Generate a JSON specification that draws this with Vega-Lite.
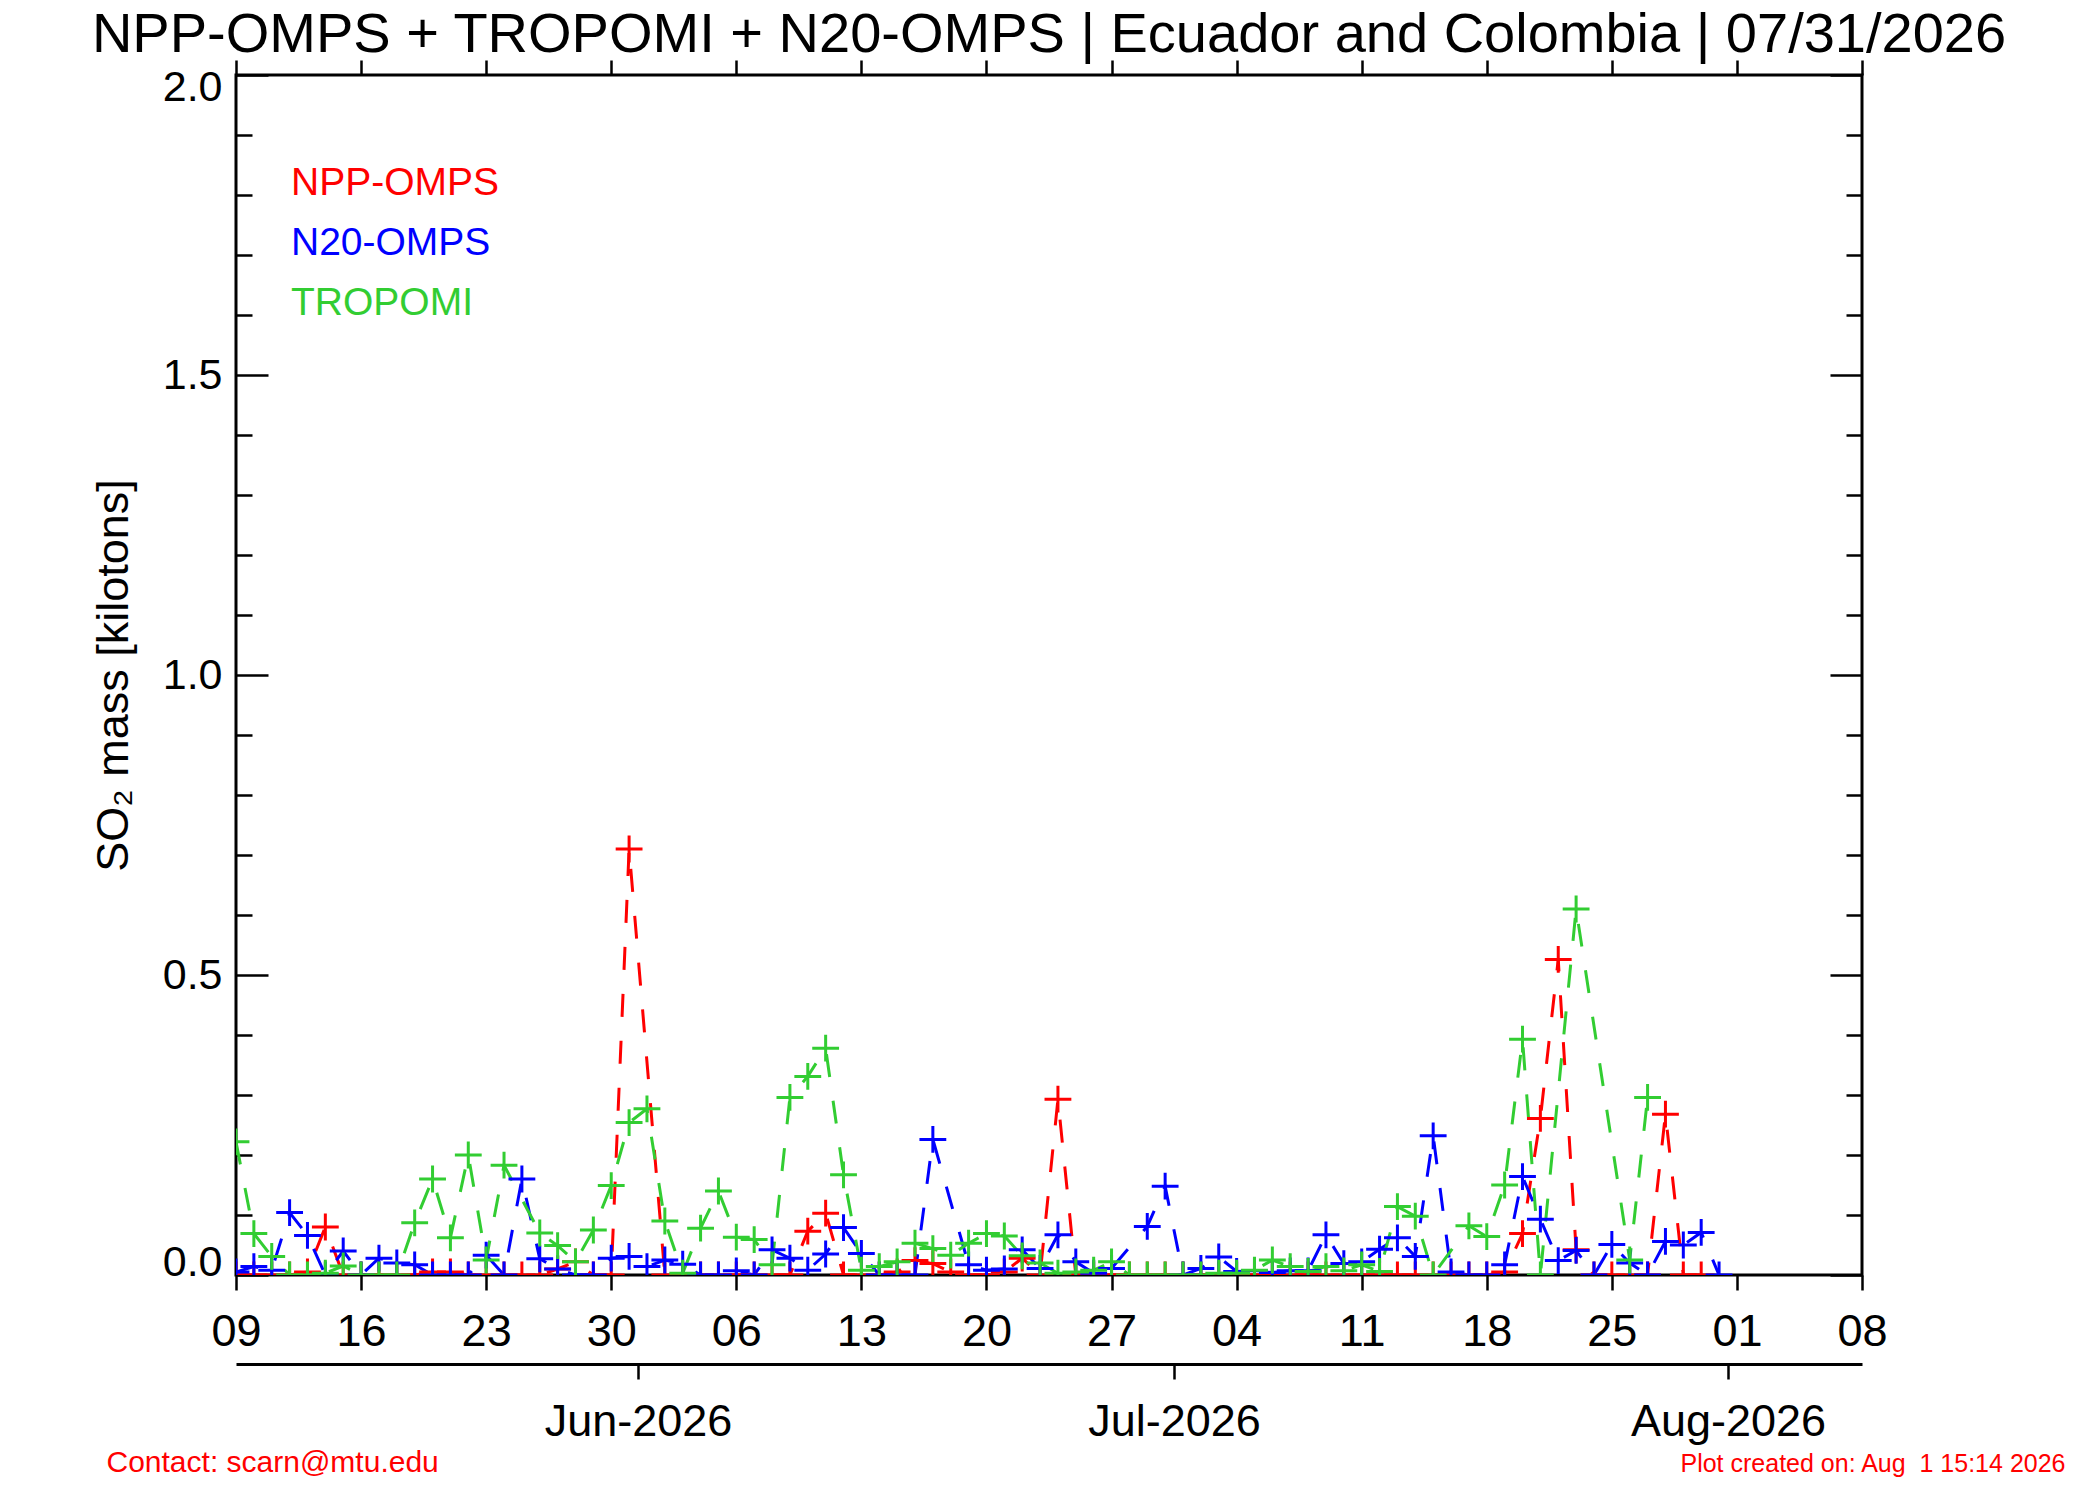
{
  "$schema": "https://vega.github.io/schema/vega-lite/v6.json",
  "width": 1626,
  "height": 1200,
  "autosize": {"type": "none"},
  "padding": {"left": 236, "top": 75, "right": 238, "bottom": 225},
  "background": "white",
  "title": {
    "text": "NPP-OMPS + TROPOMI + N20-OMPS | Ecuador and Colombia | 07/31/2026",
    "fontSize": 56, "font": "Liberation Sans", "fontWeight": "normal", "color": "black",
    "anchor": "middle", "baseline": "alphabetic", "offset": 8, "dy": 57
  },
  "data": {
    "format": {"parse": {"date": "utc:'%Y-%m-%d'"}},
    "values": [
      {"date":"2026-05-09","series":"NPP-OMPS","value":0},
      {"date":"2026-05-10","series":"NPP-OMPS","value":0},
      {"date":"2026-05-11","series":"NPP-OMPS","value":0},
      {"date":"2026-05-12","series":"NPP-OMPS","value":0},
      {"date":"2026-05-13","series":"NPP-OMPS","value":0.005},
      {"date":"2026-05-14","series":"NPP-OMPS","value":0.08},
      {"date":"2026-05-15","series":"NPP-OMPS","value":0},
      {"date":"2026-05-16","series":"NPP-OMPS","value":0},
      {"date":"2026-05-17","series":"NPP-OMPS","value":0},
      {"date":"2026-05-18","series":"NPP-OMPS","value":0},
      {"date":"2026-05-19","series":"NPP-OMPS","value":0},
      {"date":"2026-05-20","series":"NPP-OMPS","value":0.005},
      {"date":"2026-05-21","series":"NPP-OMPS","value":0.005},
      {"date":"2026-05-22","series":"NPP-OMPS","value":0},
      {"date":"2026-05-23","series":"NPP-OMPS","value":0},
      {"date":"2026-05-24","series":"NPP-OMPS","value":0},
      {"date":"2026-05-25","series":"NPP-OMPS","value":0},
      {"date":"2026-05-26","series":"NPP-OMPS","value":0},
      {"date":"2026-05-27","series":"NPP-OMPS","value":0.01},
      {"date":"2026-05-28","series":"NPP-OMPS","value":0.022},
      {"date":"2026-05-29","series":"NPP-OMPS","value":0},
      {"date":"2026-05-30","series":"NPP-OMPS","value":0},
      {"date":"2026-05-31","series":"NPP-OMPS","value":0.71},
      {"date":"2026-06-02","series":"NPP-OMPS","value":0},
      {"date":"2026-06-03","series":"NPP-OMPS","value":0},
      {"date":"2026-06-04","series":"NPP-OMPS","value":0},
      {"date":"2026-06-05","series":"NPP-OMPS","value":0},
      {"date":"2026-06-06","series":"NPP-OMPS","value":0},
      {"date":"2026-06-07","series":"NPP-OMPS","value":0},
      {"date":"2026-06-08","series":"NPP-OMPS","value":0},
      {"date":"2026-06-09","series":"NPP-OMPS","value":0},
      {"date":"2026-06-10","series":"NPP-OMPS","value":0.073},
      {"date":"2026-06-11","series":"NPP-OMPS","value":0.103},
      {"date":"2026-06-12","series":"NPP-OMPS","value":0},
      {"date":"2026-06-13","series":"NPP-OMPS","value":0},
      {"date":"2026-06-14","series":"NPP-OMPS","value":0},
      {"date":"2026-06-15","series":"NPP-OMPS","value":0.005},
      {"date":"2026-06-16","series":"NPP-OMPS","value":0.024},
      {"date":"2026-06-17","series":"NPP-OMPS","value":0.019},
      {"date":"2026-06-18","series":"NPP-OMPS","value":0.005},
      {"date":"2026-06-19","series":"NPP-OMPS","value":0},
      {"date":"2026-06-20","series":"NPP-OMPS","value":0},
      {"date":"2026-06-21","series":"NPP-OMPS","value":0.005},
      {"date":"2026-06-22","series":"NPP-OMPS","value":0.028},
      {"date":"2026-06-23","series":"NPP-OMPS","value":0},
      {"date":"2026-06-24","series":"NPP-OMPS","value":0.293},
      {"date":"2026-06-25","series":"NPP-OMPS","value":0},
      {"date":"2026-06-26","series":"NPP-OMPS","value":0},
      {"date":"2026-06-27","series":"NPP-OMPS","value":0},
      {"date":"2026-06-28","series":"NPP-OMPS","value":0},
      {"date":"2026-06-29","series":"NPP-OMPS","value":0},
      {"date":"2026-06-30","series":"NPP-OMPS","value":0},
      {"date":"2026-07-01","series":"NPP-OMPS","value":0},
      {"date":"2026-07-02","series":"NPP-OMPS","value":0},
      {"date":"2026-07-03","series":"NPP-OMPS","value":0},
      {"date":"2026-07-04","series":"NPP-OMPS","value":0},
      {"date":"2026-07-05","series":"NPP-OMPS","value":0},
      {"date":"2026-07-06","series":"NPP-OMPS","value":0},
      {"date":"2026-07-07","series":"NPP-OMPS","value":0},
      {"date":"2026-07-08","series":"NPP-OMPS","value":0},
      {"date":"2026-07-09","series":"NPP-OMPS","value":0},
      {"date":"2026-07-10","series":"NPP-OMPS","value":0},
      {"date":"2026-07-11","series":"NPP-OMPS","value":0},
      {"date":"2026-07-12","series":"NPP-OMPS","value":0},
      {"date":"2026-07-13","series":"NPP-OMPS","value":0},
      {"date":"2026-07-14","series":"NPP-OMPS","value":0},
      {"date":"2026-07-15","series":"NPP-OMPS","value":0},
      {"date":"2026-07-16","series":"NPP-OMPS","value":0},
      {"date":"2026-07-17","series":"NPP-OMPS","value":0},
      {"date":"2026-07-18","series":"NPP-OMPS","value":0},
      {"date":"2026-07-19","series":"NPP-OMPS","value":0.005},
      {"date":"2026-07-20","series":"NPP-OMPS","value":0.069},
      {"date":"2026-07-21","series":"NPP-OMPS","value":0.261},
      {"date":"2026-07-22","series":"NPP-OMPS","value":0.526},
      {"date":"2026-07-23","series":"NPP-OMPS","value":0.042},
      {"date":"2026-07-24","series":"NPP-OMPS","value":0},
      {"date":"2026-07-25","series":"NPP-OMPS","value":0},
      {"date":"2026-07-26","series":"NPP-OMPS","value":0},
      {"date":"2026-07-27","series":"NPP-OMPS","value":0},
      {"date":"2026-07-28","series":"NPP-OMPS","value":0.268},
      {"date":"2026-07-29","series":"NPP-OMPS","value":0},
      {"date":"2026-07-30","series":"NPP-OMPS","value":0},

      {"date":"2026-05-09","series":"N20-OMPS","value":0.005},
      {"date":"2026-05-10","series":"N20-OMPS","value":0.014},
      {"date":"2026-05-11","series":"N20-OMPS","value":0.008},
      {"date":"2026-05-12","series":"N20-OMPS","value":0.104},
      {"date":"2026-05-13","series":"N20-OMPS","value":0.066},
      {"date":"2026-05-14","series":"N20-OMPS","value":0},
      {"date":"2026-05-15","series":"N20-OMPS","value":0.04},
      {"date":"2026-05-16","series":"N20-OMPS","value":0},
      {"date":"2026-05-17","series":"N20-OMPS","value":0.028},
      {"date":"2026-05-18","series":"N20-OMPS","value":0.02},
      {"date":"2026-05-19","series":"N20-OMPS","value":0.017},
      {"date":"2026-05-20","series":"N20-OMPS","value":0},
      {"date":"2026-05-21","series":"N20-OMPS","value":0},
      {"date":"2026-05-22","series":"N20-OMPS","value":0},
      {"date":"2026-05-23","series":"N20-OMPS","value":0.033},
      {"date":"2026-05-24","series":"N20-OMPS","value":0},
      {"date":"2026-05-25","series":"N20-OMPS","value":0.16},
      {"date":"2026-05-26","series":"N20-OMPS","value":0.027},
      {"date":"2026-05-27","series":"N20-OMPS","value":0.01},
      {"date":"2026-05-28","series":"N20-OMPS","value":0},
      {"date":"2026-05-29","series":"N20-OMPS","value":0},
      {"date":"2026-05-30","series":"N20-OMPS","value":0.028},
      {"date":"2026-05-31","series":"N20-OMPS","value":0.031},
      {"date":"2026-06-01","series":"N20-OMPS","value":0.014},
      {"date":"2026-06-02","series":"N20-OMPS","value":0.025},
      {"date":"2026-06-03","series":"N20-OMPS","value":0.018},
      {"date":"2026-06-04","series":"N20-OMPS","value":0},
      {"date":"2026-06-05","series":"N20-OMPS","value":0},
      {"date":"2026-06-06","series":"N20-OMPS","value":0.007},
      {"date":"2026-06-07","series":"N20-OMPS","value":0},
      {"date":"2026-06-08","series":"N20-OMPS","value":0.042},
      {"date":"2026-06-09","series":"N20-OMPS","value":0.028},
      {"date":"2026-06-10","series":"N20-OMPS","value":0.008},
      {"date":"2026-06-11","series":"N20-OMPS","value":0.035},
      {"date":"2026-06-12","series":"N20-OMPS","value":0.079},
      {"date":"2026-06-13","series":"N20-OMPS","value":0.036},
      {"date":"2026-06-14","series":"N20-OMPS","value":0},
      {"date":"2026-06-15","series":"N20-OMPS","value":0},
      {"date":"2026-06-16","series":"N20-OMPS","value":0},
      {"date":"2026-06-17","series":"N20-OMPS","value":0.226},
      {"date":"2026-06-19","series":"N20-OMPS","value":0.017},
      {"date":"2026-06-20","series":"N20-OMPS","value":0.008},
      {"date":"2026-06-21","series":"N20-OMPS","value":0.01},
      {"date":"2026-06-22","series":"N20-OMPS","value":0.042},
      {"date":"2026-06-23","series":"N20-OMPS","value":0.011},
      {"date":"2026-06-24","series":"N20-OMPS","value":0.067},
      {"date":"2026-06-25","series":"N20-OMPS","value":0.022},
      {"date":"2026-06-26","series":"N20-OMPS","value":0.003},
      {"date":"2026-06-27","series":"N20-OMPS","value":0.011},
      {"date":"2026-06-29","series":"N20-OMPS","value":0.081},
      {"date":"2026-06-30","series":"N20-OMPS","value":0.148},
      {"date":"2026-07-01","series":"N20-OMPS","value":0},
      {"date":"2026-07-02","series":"N20-OMPS","value":0.011},
      {"date":"2026-07-03","series":"N20-OMPS","value":0.03},
      {"date":"2026-07-04","series":"N20-OMPS","value":0.006},
      {"date":"2026-07-05","series":"N20-OMPS","value":0.007},
      {"date":"2026-07-06","series":"N20-OMPS","value":0.004},
      {"date":"2026-07-07","series":"N20-OMPS","value":0.007},
      {"date":"2026-07-08","series":"N20-OMPS","value":0.007},
      {"date":"2026-07-09","series":"N20-OMPS","value":0.067},
      {"date":"2026-07-10","series":"N20-OMPS","value":0.019},
      {"date":"2026-07-11","series":"N20-OMPS","value":0.022},
      {"date":"2026-07-12","series":"N20-OMPS","value":0.043},
      {"date":"2026-07-13","series":"N20-OMPS","value":0.062},
      {"date":"2026-07-14","series":"N20-OMPS","value":0.031},
      {"date":"2026-07-15","series":"N20-OMPS","value":0.232},
      {"date":"2026-07-16","series":"N20-OMPS","value":0.005},
      {"date":"2026-07-17","series":"N20-OMPS","value":0},
      {"date":"2026-07-18","series":"N20-OMPS","value":0},
      {"date":"2026-07-19","series":"N20-OMPS","value":0.017},
      {"date":"2026-07-20","series":"N20-OMPS","value":0.164},
      {"date":"2026-07-21","series":"N20-OMPS","value":0.093},
      {"date":"2026-07-22","series":"N20-OMPS","value":0.024},
      {"date":"2026-07-23","series":"N20-OMPS","value":0.041},
      {"date":"2026-07-24","series":"N20-OMPS","value":0},
      {"date":"2026-07-25","series":"N20-OMPS","value":0.051},
      {"date":"2026-07-26","series":"N20-OMPS","value":0.02},
      {"date":"2026-07-27","series":"N20-OMPS","value":0},
      {"date":"2026-07-28","series":"N20-OMPS","value":0.056},
      {"date":"2026-07-29","series":"N20-OMPS","value":0.05},
      {"date":"2026-07-30","series":"N20-OMPS","value":0.071},
      {"date":"2026-07-31","series":"N20-OMPS","value":0},

      {"date":"2026-05-09","series":"TROPOMI","value":0.222},
      {"date":"2026-05-10","series":"TROPOMI","value":0.069},
      {"date":"2026-05-11","series":"TROPOMI","value":0.031},
      {"date":"2026-05-12","series":"TROPOMI","value":0},
      {"date":"2026-05-13","series":"TROPOMI","value":0},
      {"date":"2026-05-14","series":"TROPOMI","value":0.003},
      {"date":"2026-05-15","series":"TROPOMI","value":0.015},
      {"date":"2026-05-16","series":"TROPOMI","value":0},
      {"date":"2026-05-17","series":"TROPOMI","value":0},
      {"date":"2026-05-18","series":"TROPOMI","value":0},
      {"date":"2026-05-19","series":"TROPOMI","value":0.087},
      {"date":"2026-05-20","series":"TROPOMI","value":0.16},
      {"date":"2026-05-21","series":"TROPOMI","value":0.062},
      {"date":"2026-05-22","series":"TROPOMI","value":0.2},
      {"date":"2026-05-23","series":"TROPOMI","value":0.025},
      {"date":"2026-05-24","series":"TROPOMI","value":0.183},
      {"date":"2026-05-26","series":"TROPOMI","value":0.07},
      {"date":"2026-05-27","series":"TROPOMI","value":0.049},
      {"date":"2026-05-28","series":"TROPOMI","value":0.022},
      {"date":"2026-05-29","series":"TROPOMI","value":0.075},
      {"date":"2026-05-30","series":"TROPOMI","value":0.149},
      {"date":"2026-05-31","series":"TROPOMI","value":0.254},
      {"date":"2026-06-01","series":"TROPOMI","value":0.277},
      {"date":"2026-06-02","series":"TROPOMI","value":0.09},
      {"date":"2026-06-03","series":"TROPOMI","value":0.003},
      {"date":"2026-06-04","series":"TROPOMI","value":0.078},
      {"date":"2026-06-05","series":"TROPOMI","value":0.14},
      {"date":"2026-06-06","series":"TROPOMI","value":0.063},
      {"date":"2026-06-07","series":"TROPOMI","value":0.059},
      {"date":"2026-06-08","series":"TROPOMI","value":0.017},
      {"date":"2026-06-09","series":"TROPOMI","value":0.296},
      {"date":"2026-06-10","series":"TROPOMI","value":0.331},
      {"date":"2026-06-11","series":"TROPOMI","value":0.378},
      {"date":"2026-06-12","series":"TROPOMI","value":0.167},
      {"date":"2026-06-13","series":"TROPOMI","value":0.008},
      {"date":"2026-06-14","series":"TROPOMI","value":0.014},
      {"date":"2026-06-15","series":"TROPOMI","value":0.022},
      {"date":"2026-06-16","series":"TROPOMI","value":0.053},
      {"date":"2026-06-17","series":"TROPOMI","value":0.044},
      {"date":"2026-06-18","series":"TROPOMI","value":0.033},
      {"date":"2026-06-19","series":"TROPOMI","value":0.053},
      {"date":"2026-06-20","series":"TROPOMI","value":0.069},
      {"date":"2026-06-21","series":"TROPOMI","value":0.065},
      {"date":"2026-06-22","series":"TROPOMI","value":0.032},
      {"date":"2026-06-23","series":"TROPOMI","value":0.02},
      {"date":"2026-06-24","series":"TROPOMI","value":0.003},
      {"date":"2026-06-25","series":"TROPOMI","value":0.005},
      {"date":"2026-06-26","series":"TROPOMI","value":0.008},
      {"date":"2026-06-27","series":"TROPOMI","value":0.022},
      {"date":"2026-06-28","series":"TROPOMI","value":0},
      {"date":"2026-06-29","series":"TROPOMI","value":0},
      {"date":"2026-06-30","series":"TROPOMI","value":0},
      {"date":"2026-07-01","series":"TROPOMI","value":0},
      {"date":"2026-07-02","series":"TROPOMI","value":0},
      {"date":"2026-07-03","series":"TROPOMI","value":0.003},
      {"date":"2026-07-04","series":"TROPOMI","value":0.003},
      {"date":"2026-07-05","series":"TROPOMI","value":0.008},
      {"date":"2026-07-06","series":"TROPOMI","value":0.025},
      {"date":"2026-07-07","series":"TROPOMI","value":0.014},
      {"date":"2026-07-08","series":"TROPOMI","value":0.006},
      {"date":"2026-07-09","series":"TROPOMI","value":0.014},
      {"date":"2026-07-10","series":"TROPOMI","value":0.007},
      {"date":"2026-07-11","series":"TROPOMI","value":0.017},
      {"date":"2026-07-12","series":"TROPOMI","value":0.006},
      {"date":"2026-07-13","series":"TROPOMI","value":0.114},
      {"date":"2026-07-14","series":"TROPOMI","value":0.098},
      {"date":"2026-07-15","series":"TROPOMI","value":0},
      {"date":"2026-07-17","series":"TROPOMI","value":0.082},
      {"date":"2026-07-18","series":"TROPOMI","value":0.064},
      {"date":"2026-07-19","series":"TROPOMI","value":0.15},
      {"date":"2026-07-20","series":"TROPOMI","value":0.393},
      {"date":"2026-07-21","series":"TROPOMI","value":0},
      {"date":"2026-07-23","series":"TROPOMI","value":0.61},
      {"date":"2026-07-26","series":"TROPOMI","value":0.025},
      {"date":"2026-07-27","series":"TROPOMI","value":0.296}
    ]
  },
  "layer": [
    {
      "encoding": {
        "x": {
          "field": "date", "type": "temporal",
          "scale": {"type": "utc", "nice": false, "domain": [
            {"year": 2026, "month": 5, "date": 9, "utc": true},
            {"year": 2026, "month": 8, "date": 8, "utc": true}]},
          "axis": {
            "orient": "bottom", "title": null, "format": "%d",
            "values": [
              {"year": 2026, "month": 5, "date": 9, "utc": true},
              {"year": 2026, "month": 5, "date": 16, "utc": true},
              {"year": 2026, "month": 5, "date": 23, "utc": true},
              {"year": 2026, "month": 5, "date": 30, "utc": true},
              {"year": 2026, "month": 6, "date": 6, "utc": true},
              {"year": 2026, "month": 6, "date": 13, "utc": true},
              {"year": 2026, "month": 6, "date": 20, "utc": true},
              {"year": 2026, "month": 6, "date": 27, "utc": true},
              {"year": 2026, "month": 7, "date": 4, "utc": true},
              {"year": 2026, "month": 7, "date": 11, "utc": true},
              {"year": 2026, "month": 7, "date": 18, "utc": true},
              {"year": 2026, "month": 7, "date": 25, "utc": true},
              {"year": 2026, "month": 8, "date": 1, "utc": true},
              {"year": 2026, "month": 8, "date": 8, "utc": true}],
            "tickSize": 15, "labelFontSize": 45, "labelPadding": 19,
            "labelFlush": false, "labelOverlap": false, "labelLimit": 0
          }
        },
        "y": {
          "field": "value", "type": "quantitative",
          "scale": {"domain": [0, 2], "nice": false, "zero": false},
          "axis": {
            "orient": "left", "values": [0, 0.5, 1, 1.5, 2], "format": ".1f",
            "ticks": false, "labelFontSize": 43, "labelPadding": 14,
            "labelFlush": true, "labelFlushOffset": 9,
            "title": "SO₂ mass [kilotons]", "titleFontSize": 45, "titlePadding": 26
          }
        },
        "color": {
          "field": "series", "type": "nominal",
          "scale": {"domain": ["NPP-OMPS", "N20-OMPS", "TROPOMI"],
                    "range": ["#ff0000", "#0000ff", "#32cd32"]},
          "legend": {
            "orient": "none", "legendX": 16, "legendY": 88, "title": null,
            "symbolSize": 0, "symbolOpacity": 0, "symbolStrokeWidth": 0,
            "labelOffset": 0, "padding": 0, "rowPadding": 20,
            "labelFontSize": 39, "labelFont": "Liberation Sans", "labelLimit": 0,
            "encode": {"labels": {"update": {"fill": {"scale": "color", "field": "value"}}}}
          }
        }
      },
      "layer": [
        {"mark": {"type": "line", "strokeDash": [23, 24], "strokeWidth": 3, "clip": true}},
        {"mark": {"type": "point", "shape": "M-1,0H1M0,-1V1", "filled": false,
                  "size": 720, "strokeWidth": 3, "opacity": 1, "clip": true}}
      ]
    },
    {
      "mark": {"type": "point", "opacity": 0},
      "encoding": {
        "x": {"field": "date", "type": "temporal", "axis": null},
        "y": {"field": "value", "type": "quantitative",
              "axis": {"orient": "left", "values": [0, 0.5, 1, 1.5, 2], "tickSize": -32,
                       "labels": false, "title": null}}
      }
    },
    {
      "mark": {"type": "point", "opacity": 0},
      "encoding": {
        "x": {"field": "date", "type": "temporal", "axis": null},
        "y": {"field": "value", "type": "quantitative",
              "axis": {"orient": "left",
                       "values": [0.1, 0.2, 0.3, 0.4, 0.6, 0.7, 0.8, 0.9, 1.1, 1.2, 1.3, 1.4, 1.6, 1.7, 1.8, 1.9],
                       "tickSize": -16, "labels": false, "title": null}}
      }
    },
    {
      "mark": {"type": "point", "opacity": 0},
      "encoding": {
        "x": {"field": "date", "type": "temporal", "axis": null},
        "y": {"field": "value", "type": "quantitative",
              "axis": {"orient": "right", "values": [0, 0.5, 1, 1.5, 2], "tickSize": -32,
                       "labels": false, "title": null}}
      }
    },
    {
      "mark": {"type": "point", "opacity": 0},
      "encoding": {
        "x": {"field": "date", "type": "temporal", "axis": null},
        "y": {"field": "value", "type": "quantitative",
              "axis": {"orient": "right",
                       "values": [0.1, 0.2, 0.3, 0.4, 0.6, 0.7, 0.8, 0.9, 1.1, 1.2, 1.3, 1.4, 1.6, 1.7, 1.8, 1.9],
                       "tickSize": -16, "labels": false, "title": null}}
      }
    },
    {
      "mark": {"type": "point", "opacity": 0},
      "encoding": {
        "y": {"field": "value", "type": "quantitative", "axis": null},
        "x": {"field": "date", "type": "temporal",
              "axis": {
                "orient": "top", "labels": false, "tickSize": 15,
                "values": [
                  {"year": 2026, "month": 5, "date": 9, "utc": true},
                  {"year": 2026, "month": 5, "date": 16, "utc": true},
                  {"year": 2026, "month": 5, "date": 23, "utc": true},
                  {"year": 2026, "month": 5, "date": 30, "utc": true},
                  {"year": 2026, "month": 6, "date": 6, "utc": true},
                  {"year": 2026, "month": 6, "date": 13, "utc": true},
                  {"year": 2026, "month": 6, "date": 20, "utc": true},
                  {"year": 2026, "month": 6, "date": 27, "utc": true},
                  {"year": 2026, "month": 7, "date": 4, "utc": true},
                  {"year": 2026, "month": 7, "date": 11, "utc": true},
                  {"year": 2026, "month": 7, "date": 18, "utc": true},
                  {"year": 2026, "month": 7, "date": 25, "utc": true},
                  {"year": 2026, "month": 8, "date": 1, "utc": true},
                  {"year": 2026, "month": 8, "date": 8, "utc": true}],
                "title": "Plot created on: Aug \u00a01 15:14 2026",
                "titleColor": "#ff0000", "titleFontSize": 25,
                "titleX": 1829, "titleY": 1396, "titleAlign": "right",
                "titleBaseline": "alphabetic", "titleAngle": 0
              }}
      }
    },
    {
      "mark": {"type": "point", "opacity": 0},
      "encoding": {
        "y": {"field": "value", "type": "quantitative", "axis": null},
        "x": {"field": "date", "type": "temporal",
              "axis": {
                "orient": "bottom", "offset": 89,
                "domain": true, "domainColor": "black", "domainWidth": 3,
                "values": [
                  {"year": 2026, "month": 5, "date": 31, "hours": 12, "utc": true},
                  {"year": 2026, "month": 6, "date": 30, "hours": 12, "utc": true},
                  {"year": 2026, "month": 7, "date": 31, "hours": 12, "utc": true}],
                "labelExpr": "utcFormat(datum.value + 43200000, '%b-%Y')",
                "tickSize": 15, "labelFontSize": 45, "labelPadding": 20,
                "labelFlush": false, "labelOverlap": false, "labelLimit": 0,
                "title": "Contact: scarn@mtu.edu",
                "titleColor": "#ff0000", "titleFontSize": 30,
                "titleX": -130, "titleY": 107, "titleAlign": "left",
                "titleBaseline": "alphabetic", "titleAngle": 0
              }}
      }
    }
  ],
  "resolve": {"axis": {"x": "independent", "y": "independent"}},
  "config": {
    "font": "Liberation Sans",
    "view": {"stroke": "black", "strokeWidth": 3},
    "axis": {
      "grid": false, "domain": false, "tickColor": "black", "tickWidth": 2.5,
      "labelFont": "Liberation Sans", "labelColor": "black",
      "titleFont": "Liberation Sans", "titleColor": "black", "titleFontWeight": "normal"
    }
  }
}
